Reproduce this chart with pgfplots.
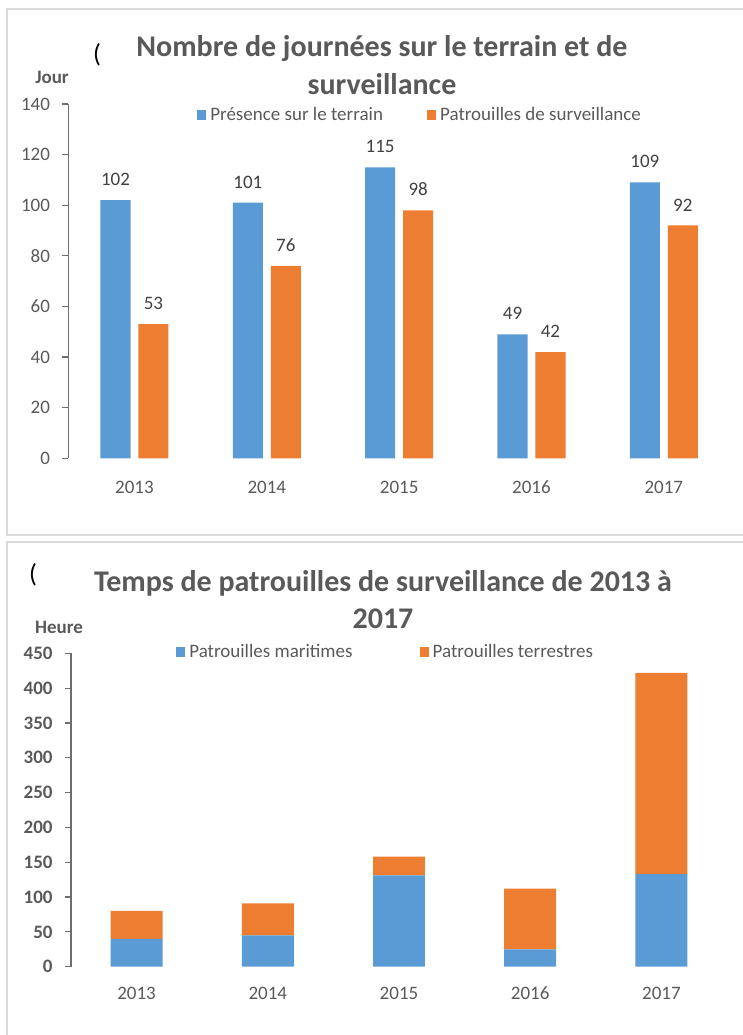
\documentclass[border=0pt]{standalone}
\usepackage{pgfplots}
\pgfplotsset{compat=1.18}
\usepackage{fontspec}
\setmainfont{Carlito}

\definecolor{cblue}{HTML}{5B9BD5}
\definecolor{corange}{HTML}{ED7D31}
\definecolor{txt}{HTML}{595959}
\definecolor{lbl}{HTML}{404040}
\definecolor{boxc}{HTML}{D9D9D9}
\definecolor{axc}{HTML}{6E6E6E}

\newcommand{\fs}{\fontsize{9.5}{11}\selectfont}
\newcommand{\ft}{\fontsize{15}{18}\selectfont\bfseries}

\pgfplotsset{
  excelstyle/.style={
    scale only axis,
    axis lines*=left,
    x axis line style={draw=none},
    y axis line style={axc, line width=0.6pt},
    xtick style={draw=none},
    ytick style={axc, line width=0.6pt},
    tick align=outside,
    major tick length=3pt,
    xmin=-0.5, xmax=4.5,
    xtick={0,...,4},
    xticklabels={2013,2014,2015,2016,2017},
    ymin=0,
    tick label style={font=\fs, text=txt},
    yticklabel style={inner sep=0pt, xshift=-6pt},
    /pgf/number format/assume math mode=true,
    legend columns=2,
    legend style={draw=none, fill=none, font=\fs, text=txt, inner sep=0pt,
      anchor=center, /tikz/every even column/.append style={column sep=20pt}},
    clip=false,
  },
  sqlegend/.style={
    legend image code/.code={\fill[##1] (0pt,-2.3pt) rectangle (4.6pt,2.3pt);},
  },
}

\begin{document}
\begin{tikzpicture}
\begin{scope}[x=0.5pt, y=-0.5pt]
  \path[use as bounding box] (0,0) rectangle (743,1035);
  \draw[boxc, line width=1pt] (7,9) rectangle (760,535);
  \draw[boxc, line width=1pt] (7,542) rectangle (760,1060);
  \coordinate (A1) at (68.3,458.3);
  \coordinate (A2) at (71,966.7);
  % top chart texts
  \node[font=\fontsize{13}{15}\selectfont] at (97,55) {(};
  \node[font=\ft, text=txt] at (382,49) {Nombre de journées sur le terrain et de};
  \node[font=\ft, text=txt] at (382,84) {surveillance};
  \node[font=\fs\bfseries, text=txt] at (52,77) {Jour};
  % bottom chart texts
  \node[font=\fontsize{13}{15}\selectfont] at (33,575) {(};
  \node[font=\ft, text=txt] at (383,583) {Temps de patrouilles de surveillance de 2013 à};
  \node[font=\ft, text=txt] at (383,619) {2017};
  \node[font=\fs\bfseries, text=txt] at (59,627) {Heure};
\end{scope}

\begin{axis}[excelstyle,
  at={(A1)}, anchor=south west,
  width=330.85pt, height=177.15pt,
  ymax=140, ytick={0,20,...,140},
  xticklabel style={anchor=center, yshift=-11.3pt},
  ybar, bar width=0.227, sqlegend,
  nodes near coords,
  nodes near coords style={font=\fs, text=lbl, anchor=south, inner sep=0pt, yshift=7pt},
  legend style={at={(0.533,0.969)}},
]
\addplot[fill=cblue, draw=none, bar shift=-0.1435] coordinates {(0,102) (1,101) (2,115) (3,49) (4,109)};
\addplot[fill=corange, draw=none, bar shift=0.1435] coordinates {(0,53) (1,76) (2,98) (3,42) (4,92)};
\legend{Présence sur le terrain, Patrouilles de surveillance}
\end{axis}

\begin{axis}[excelstyle,
  at={(A2)}, anchor=south west,
  width=328pt, height=156.7pt,
  ymax=450, ytick={0,50,...,450},
  yticklabel style={font=\fs\bfseries},
  xticklabel style={anchor=center, yshift=-10.2pt},
  ybar stacked, bar width=0.396, sqlegend,
  legend style={at={(0.481,1.004)}, /tikz/every even column/.append style={column sep=31.5pt}},
]
\addplot[fill=cblue, draw=none] coordinates {(0,40) (1,45) (2,131) (3,25) (4,133)};
\addplot[fill=corange, draw=none] coordinates {(0,40) (1,46) (2,27) (3,87) (4,289)};
\legend{Patrouilles maritimes, Patrouilles terrestres}
\end{axis}
\end{tikzpicture}
\end{document}
